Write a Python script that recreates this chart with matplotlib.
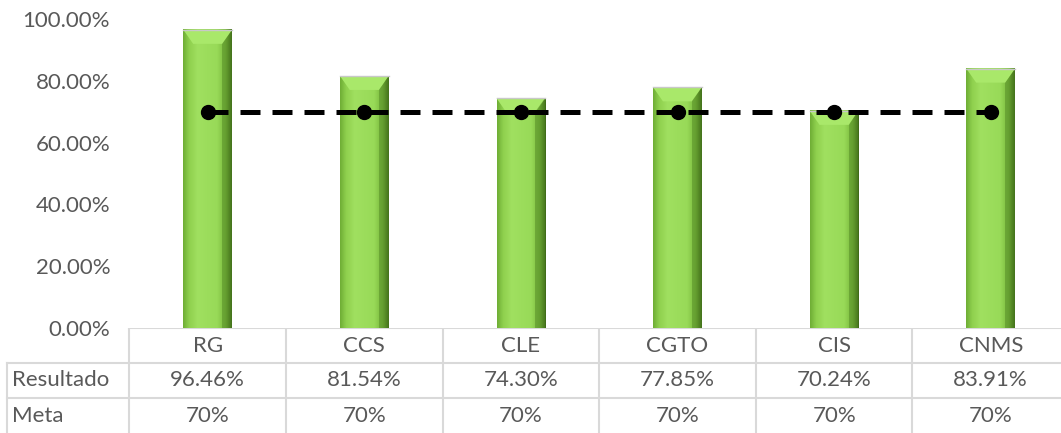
import numpy as np
import matplotlib.pyplot as plt
from matplotlib.colors import LinearSegmentedColormap
from matplotlib.ticker import FuncFormatter

plt.rcParams['font.family'] = ['Lato', 'DejaVu Sans']

categorias = ["RG", "CCS", "CLE", "CGTO", "CIS", "CNMS"]
resultado = [96.46, 81.54, 74.30, 77.85, 70.24, 83.91]
meta = [70, 70, 70, 70, 70, 70]
yticks = [0, 20, 40, 60, 80, 100]

texto = "#595959"
rejilla = "#d9d9d9"

W, H = 1061, 433
fig = plt.figure(figsize=(W / 100, H / 100), dpi=100)

# main plot area in pixels
left, right, top, bottom = 131, 1061, 19, 328
ax = fig.add_axes([left / W, 1 - bottom / H, (right - left) / W, (bottom - top) / H])
paso = 156.6
x0 = -0.49
x1 = x0 + (right - left) / paso
ax.set_xlim(x0, x1)
ax.set_ylim(0, 100)

x = np.arange(len(categorias))
ancho = 0.31

# bevel-ish gradient for the bars
cmap = LinearSegmentedColormap.from_list("bisel", [
    (0.0, "#6fae36"), (0.12, "#8fd04e"), (0.3, "#a0e060"),
    (0.7, "#98da58"), (0.88, "#78b83c"), (1.0, "#3f6a18")])
grad = np.linspace(0, 1, 64).reshape(1, -1)
for xi, v in zip(x, resultado):
    ax.imshow(grad, cmap=cmap, aspect="auto", extent=(xi - ancho / 2, xi + ancho / 2, 0, v),
              zorder=2, interpolation="bilinear")
    b = 4.5
    d = ancho * 0.2
    ax.fill([xi - ancho / 2, xi + ancho / 2, xi + ancho / 2 - d, xi - ancho / 2 + d],
            [v, v, v - b, v - b], color="#a9e86a", zorder=3, lw=0)
    ax.fill([xi + ancho / 2, xi + ancho / 2, xi + ancho / 2 - d, xi + ancho / 2 - d],
            [v, 0, 0, v - b], color="#4f8222", alpha=0.45, zorder=3, lw=0)
    ax.plot([xi - ancho / 2, xi + ancho / 2], [v, v], color="#c8c8c8", lw=1, zorder=4)

ax.plot(x, meta, color="black", lw=3.6, dashes=(4, 2.4), marker="o", ms=10,
        zorder=5, solid_capstyle="butt", dash_capstyle="butt")

fs = 16
ax.set_yticks(yticks)
ax.yaxis.set_major_formatter(FuncFormatter(lambda v, p: f"{v:.2f}%"))
ax.tick_params(axis="y", length=0, pad=15, labelsize=fs, labelcolor=texto)
ax.set_xticks([])
for s in ax.spines.values():
    s.set_visible(False)

# data table below the plot
tab = fig.add_axes([0, 0, 1, (H - bottom) / H])
tab.set_xlim(x0 - left / paso, x1)
tab.set_ylim(0, 3)
tab.axis("off")
izq = x0 - (left - 7) / paso
tab.plot([-0.5, x1], [3, 3], color=rejilla, lw=1.5)
tab.plot([izq, x1], [2, 2], color=rejilla, lw=1.5)
tab.plot([izq, x1], [1, 1], color=rejilla, lw=1.5)
tab.plot([izq, izq], [0, 2], color=rejilla, lw=1.5)
for i in range(len(categorias) + 1):
    tab.plot([i - 0.5, i - 0.5], [0, 3], color=rejilla, lw=1.5)

for i, c in enumerate(categorias):
    tab.text(i, 2.5, c, ha="center", va="center", fontsize=fs, color=texto)
    tab.text(i, 1.5, f"{resultado[i]:.2f}%", ha="center", va="center", fontsize=fs, color=texto)
    tab.text(i, 0.5, f"{meta[i]}%", ha="center", va="center", fontsize=fs, color=texto)
tab.text(izq + 0.03, 1.5, "Resultado", ha="left", va="center", fontsize=fs, color=texto)
tab.text(izq + 0.03, 0.5, "Meta", ha="left", va="center", fontsize=fs, color=texto)

fig.savefig("out.png", dpi=100)
